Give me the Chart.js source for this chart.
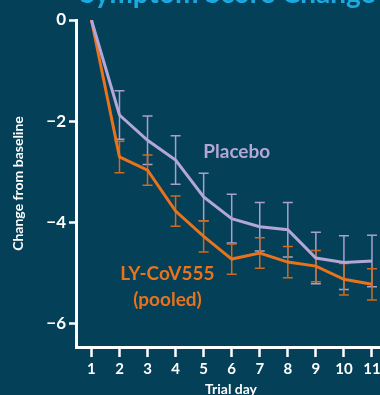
<!DOCTYPE html>
<html>
<head>
<meta charset="utf-8">
<script src="https://cdn.jsdelivr.net/npm/chart.js@4.4.1/dist/chart.umd.min.js"></script>
<style>
  html, body { margin: 0; padding: 0; background: #044058; overflow: hidden; }
  #wrap { position: relative; width: 420px; height: 395px; }
</style>
</head>
<body>
<div id="wrap"><canvas id="c"></canvas></div>
<script>
const trialDays = [1, 2, 3, 4, 5, 6, 7, 8, 9, 10, 11];
const placeboMean = [0, -1.88, -2.38, -2.77, -3.50, -3.93, -4.09, -4.15, -4.71, -4.80, -4.77];
const placeboErr  = [0, 0.48, 0.48, 0.48, 0.47, 0.48, 0.48, 0.54, 0.51, 0.53, 0.51];
const lyMean = [0, -2.71, -2.97, -3.78, -4.28, -4.73, -4.61, -4.79, -4.87, -5.13, -5.23];
const lyErr  = [0, 0.31, 0.30, 0.30, 0.31, 0.30, 0.30, 0.31, 0.31, 0.31, 0.31];
const yTickValues = [0, -2, -4, -6];
const xTickValues = trialDays;
const seriesNames = ['Placebo', 'LY-CoV555 (pooled)'];

const PLACEBO = '#b4a7d8';
const ORANGE = '#e8731c';
const FONT = 'Lato';

const errorBars = {
  id: 'errorBars',
  beforeDatasetsDraw(chart) {
    const { ctx, scales: { x, y } } = chart;
    chart.data.datasets.forEach(ds => {
      if (!ds.err) return;
      ctx.save();
      ctx.strokeStyle = ds.errColor;
      ctx.lineWidth = 1.5;
      ds.data.forEach((pt, i) => {
        const e = ds.err[i];
        if (!e) return;
        const px = x.getPixelForValue(pt.x);
        const top = y.getPixelForValue(pt.y + e);
        const bot = y.getPixelForValue(pt.y - e);
        ctx.beginPath();
        ctx.moveTo(px, top); ctx.lineTo(px, bot);
        ctx.moveTo(px - 5, top); ctx.lineTo(px + 5, top);
        ctx.moveTo(px - 5, bot); ctx.lineTo(px + 5, bot);
        ctx.stroke();
      });
      ctx.restore();
    });
  }
};

const labelsPlugin = {
  id: 'seriesLabels',
  afterDatasetsDraw(chart) {
    const { ctx, scales: { x, y } } = chart;
    ctx.save();
    ctx.font = `bold 19px ${FONT}`;
    ctx.textAlign = 'center';
    ctx.textBaseline = 'middle';
    ctx.fillStyle = PLACEBO;
    ctx.fillText(seriesNames[0], x.getPixelForValue(6.18), y.getPixelForValue(-2.61));
    ctx.fillStyle = ORANGE;
    ctx.fillText('LY-CoV555', x.getPixelForValue(3.71), y.getPixelForValue(-5.03));
    ctx.fillText('(pooled)', x.getPixelForValue(3.71), y.getPixelForValue(-5.54));
    ctx.restore();
  }
};

const topTitle = {
  id: 'topTitle',
  afterDraw(chart) {
    const { ctx } = chart;
    ctx.save();
    ctx.font = `bold 28px ${FONT}`;
    ctx.fillStyle = '#1ba9e1';
    ctx.textAlign = 'left';
    ctx.textBaseline = 'alphabetic';
    ctx.fillText('Symptom Score Change', 80, 3);
    ctx.restore();
  }
};

new Chart(document.getElementById('c'), {
  type: 'line',
  data: {
    datasets: [
      {
        label: seriesNames[0],
        data: placeboMean.map((v, i) => ({ x: trialDays[i], y: v })),
        err: placeboErr, errColor: '#a99fcf',
        borderColor: PLACEBO, borderWidth: 3, pointRadius: 0, tension: 0, fill: false
      },
      {
        label: seriesNames[1],
        data: lyMean.map((v, i) => ({ x: trialDays[i], y: v })),
        err: lyErr, errColor: '#cf6a20',
        borderColor: ORANGE, borderWidth: 3, pointRadius: 0, tension: 0, fill: false
      }
    ]
  },
  options: {
    responsive: true,
    maintainAspectRatio: false,
    animation: false,
    devicePixelRatio: 1,
    layout: { padding: { top: 20, right: 34, left: 0, bottom: 0 } },
    plugins: { legend: { display: false }, tooltip: { enabled: false }, title: { display: false } },
    scales: {
      x: {
        type: 'linear',
        min: 0.45, max: 11.5,
        afterBuildTicks(s) { s.ticks = xTickValues.map(v => ({ value: v })); },
        afterFit(s) { s.height = 48; },
        grid: { display: true, drawOnChartArea: false, drawTicks: true, tickLength: 10, tickColor: '#ffffff', tickWidth: 2.5 },
        border: { display: true, color: '#ffffff', width: 3 },
        ticks: { color: '#ffffff', font: { family: FONT, size: 15, weight: 'bold' }, padding: 3, autoSkip: false, maxRotation: 0,
                 callback: v => String(v) },
        title: { display: true, text: 'Trial day', color: '#ffffff', font: { family: FONT, size: 14, weight: 'bold', lineHeight: 1.2 }, padding: { top: 0, bottom: -3 } }
      },
      y: {
        type: 'linear',
        min: -6.47, max: 0,
        afterBuildTicks(s) { s.ticks = yTickValues.map(v => ({ value: v })); },
        afterFit(s) { s.width = 76; },
        grid: { display: true, drawOnChartArea: false, drawTicks: true, tickLength: 7, tickColor: '#ffffff', tickWidth: 2.5 },
        border: { display: true, color: '#ffffff', width: 3 },
        ticks: { color: '#ffffff', font: { family: FONT, size: 17, weight: 'bold' }, padding: 3,
                 callback: v => (v < 0 ? '\u2212' + Math.abs(v) : String(v)) },
        title: { display: true, text: 'Change from baseline', color: '#ffffff', font: { family: FONT, size: 14, weight: 'bold', lineHeight: 1.2 }, padding: { top: 10, bottom: 0 } }
      }
    }
  },
  plugins: [errorBars, labelsPlugin, topTitle]
});
</script>
</body>
</html>
